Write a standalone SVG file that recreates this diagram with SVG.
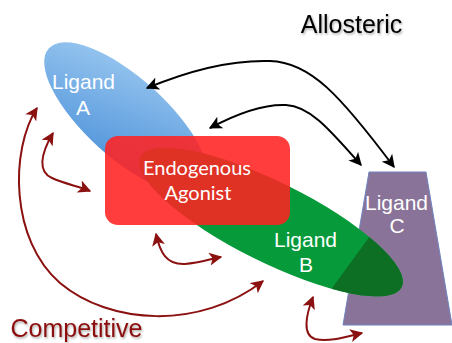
<svg xmlns="http://www.w3.org/2000/svg" width="452" height="343" viewBox="0 0 452 343">
<defs>
  <style>
    .lbl{font-family:"Liberation Sans",Arial,sans-serif;font-size:21px;fill:#fff;text-anchor:middle}
    .endo{font-family:Lato,"Open Sans",sans-serif;font-size:20px;fill:#fff;text-anchor:middle}
    .big{font-family:"Liberation Sans",Arial,sans-serif;font-size:25px;text-anchor:middle}
    .blk{fill:none;stroke:#000;stroke-width:2}
    .red{fill:none;stroke:#8b1010;stroke-width:2}
  </style>
  <linearGradient id="gBlue" x1="0" y1="0" x2="1" y2="1">
    <stop offset="0" stop-color="#a0ccf2"/>
    <stop offset="1" stop-color="#4189d6"/>
  </linearGradient>
  <marker id="ab" viewBox="0 0 10 10" refX="9" refY="5" markerWidth="6.5" markerHeight="6.5" orient="auto-start-reverse" markerUnits="strokeWidth">
    <path d="M0,0 L10,5 L0,10 L2.5,5 Z" fill="#000"/>
  </marker>
  <marker id="ar" viewBox="0 0 10 10" refX="9" refY="5" markerWidth="6.5" markerHeight="6.5" orient="auto-start-reverse" markerUnits="strokeWidth">
    <path d="M0,0 L10,5 L0,10 L2.5,5 Z" fill="#8b1010"/>
  </marker>
  <filter id="sh" x="-10%" y="-30%" width="120%" height="160%">
    <feDropShadow dx="1" dy="1.5" stdDeviation="1" flood-color="#000" flood-opacity="0.35"/>
  </filter>
  <clipPath id="cTrap">
    <polygon points="369,172 426,172 452,325 343,325"/>
  </clipPath>
</defs>

<g id="ligandA">
  <ellipse cx="126" cy="118" rx="104" ry="40" transform="rotate(42 126 118)" fill="url(#gBlue)"/>
</g>

<g id="ligandC">
  <polygon points="369,172 426,172 452,325 343,325" fill="#8a7398" stroke="#6d84bf" stroke-width="1"/>
</g>

<g id="ligandB">
  <ellipse cx="271" cy="222" rx="146" ry="40" transform="rotate(26.5 271 222)" fill="#069a3a"/>
  <ellipse cx="271" cy="222" rx="146" ry="40" transform="rotate(26.5 271 222)" fill="#0c6f24" clip-path="url(#cTrap)"/>
</g>

<g id="agonist">
  <rect x="105" y="136" width="185" height="89" rx="13" fill="#ff2222" fill-opacity="0.88"/>
</g>

<g id="labels">
  <text class="lbl" x="83.5" y="89">Ligand</text>
  <text class="lbl" x="83" y="115">A</text>
  <text class="endo" x="197" y="175">Endogenous</text>
  <text class="endo" x="198" y="200">Agonist</text>
  <text class="lbl" x="305.5" y="247">Ligand</text>
  <text class="lbl" x="306" y="272">B</text>
  <text class="lbl" x="396.5" y="210">Ligand</text>
  <text class="lbl" x="397" y="233">C</text>
  <text class="big" x="351.5" y="33" fill="#000" filter="url(#sh)">Allosteric</text>
  <text class="big" x="76.5" y="337" fill="#8b1010" filter="url(#sh)">Competitive</text>
</g>

<g id="connectors">
  <path class="blk" d="M147,88 C200,66 240,60 270,61 C310,62 340,95 394,167" marker-start="url(#ab)" marker-end="url(#ab)"/>
  <path class="blk" d="M210,128 C240,112 265,104 286,105 C310,106 330,130 361,165" marker-start="url(#ab)" marker-end="url(#ab)"/>
  <path class="red" d="M37,108 C10,150 10,240 60,283 C110,325 200,330 263,281" marker-start="url(#ar)" marker-end="url(#ar)"/>
  <path class="red" d="M53,133 C40,155 38,172 52,178 C65,184 78,186 90,191" marker-start="url(#ar)" marker-end="url(#ar)"/>
  <path class="red" d="M156,234 C160,252 166,265 185,264 C200,263 210,259 221,257" marker-start="url(#ar)" marker-end="url(#ar)"/>
  <path class="red" d="M313,297 C306,315 302,335 315,339 C330,342 345,337 362,333" marker-start="url(#ar)" marker-end="url(#ar)"/>
</g>
</svg>
